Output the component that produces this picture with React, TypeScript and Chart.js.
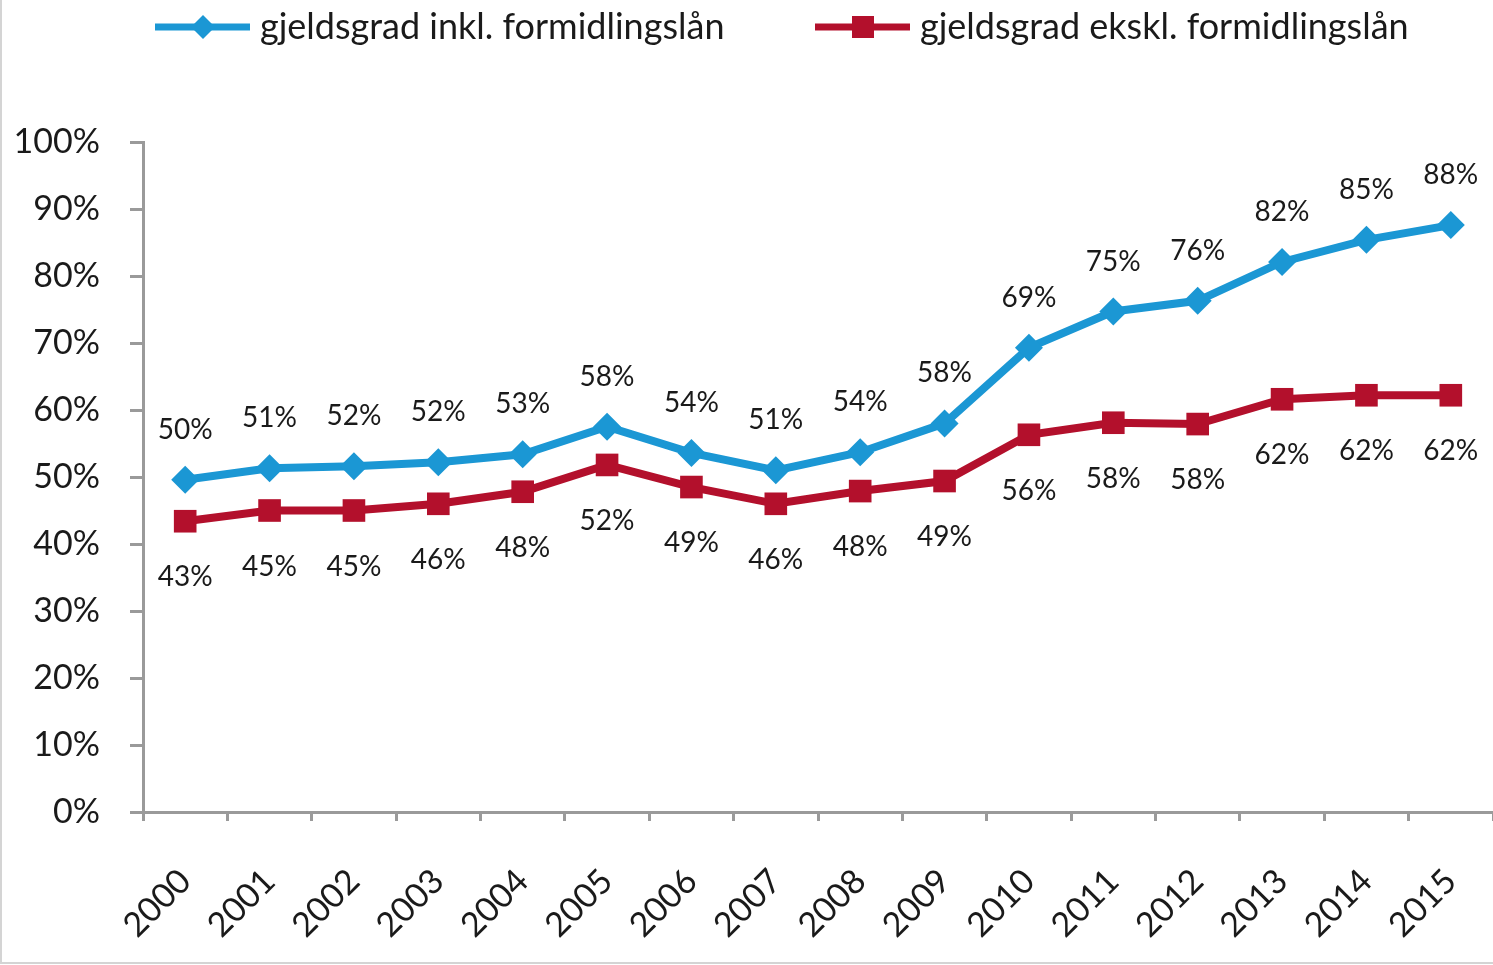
import React, { useEffect, useRef } from "react";
import { Chart, registerables } from "chart.js";

Chart.register(...registerables);

const years = ["2000", "2001", "2002", "2003", "2004", "2005", "2006", "2007", "2008", "2009", "2010", "2011", "2012", "2013", "2014", "2015"];
const inklValues = [49.6, 51.3, 51.6, 52.2, 53.4, 57.5, 53.6, 51.0, 53.7, 58.0, 69.3, 74.7, 76.3, 82.1, 85.4, 87.6];
const eksklValues = [43.4, 45.0, 45.0, 46.0, 47.8, 51.8, 48.5, 46.0, 47.9, 49.4, 56.3, 58.1, 57.9, 61.6, 62.2, 62.2];
const seriesNames = ["gjeldsgrad inkl. formidlingslån", "gjeldsgrad ekskl. formidlingslån"];

const BLUE = "#1b97d4";
const RED = "#b3102c";
const AXIS = "#9a9a9a";
const TEXT = "#1a1a1a";
const FONT = "Lato";

const dataLabelPlugin = {
  id: "dataLabels",
  afterDatasetsDraw(chart: any) {
    const ctx = chart.ctx;
    ctx.save();
    ctx.font = `28px ${FONT}`;
    ctx.fillStyle = TEXT;
    ctx.textAlign = "center";
    ctx.textBaseline = "middle";
    chart.data.datasets.forEach((ds: any, i: number) => {
      const meta = chart.getDatasetMeta(i);
      meta.data.forEach((pt: any, j: number) => {
        const v = ds.data[j] as number;
        const dy = i === 0 ? -50 : 56;
        ctx.fillText(Math.round(v) + "%", pt.x, pt.y + dy);
      });
    });
    ctx.restore();
  },
};

const frameAndLegendPlugin = {
  id: "frameAndLegend",
  beforeDraw(chart: any) {
    const ctx = chart.ctx;
    const w = chart.width;
    const h = chart.height;
    ctx.save();
    ctx.fillStyle = "#ffffff";
    ctx.fillRect(0, 0, w, h);
    ctx.strokeStyle = "#d4d4d4";
    ctx.lineWidth = 2;
    ctx.beginPath();
    ctx.moveTo(1, 0);
    ctx.lineTo(1, h - 2);
    ctx.lineTo(w, h - 2);
    ctx.stroke();
    ctx.restore();
  },
  afterDraw(chart: any) {
    const ctx = chart.ctx;
    ctx.save();
    const y = 27;
    const items = [
      { x: 155, color: BLUE, shape: "diamond", label: seriesNames[0] },
      { x: 815, color: RED, shape: "square", label: seriesNames[1] },
    ];
    items.forEach((it) => {
      ctx.strokeStyle = it.color;
      ctx.lineWidth = 7;
      ctx.beginPath();
      ctx.moveTo(it.x, y);
      ctx.lineTo(it.x + 95, y);
      ctx.stroke();
      ctx.fillStyle = it.color;
      const cx = it.x + 48;
      ctx.beginPath();
      if (it.shape === "diamond") {
        ctx.moveTo(cx, y - 12);
        ctx.lineTo(cx + 12, y);
        ctx.lineTo(cx, y + 12);
        ctx.lineTo(cx - 12, y);
        ctx.closePath();
      } else {
        ctx.rect(cx - 11, y - 11, 22, 22);
      }
      ctx.fill();
      ctx.fillStyle = TEXT;
      ctx.font = `36px ${FONT}`;
      ctx.textAlign = "left";
      ctx.textBaseline = "middle";
      ctx.fillText(it.label, it.x + 105, y);
    });
    ctx.restore();
  },
};

export default function App() {
  const canvasRef = useRef<HTMLCanvasElement | null>(null);

  useEffect(() => {
    if (!canvasRef.current) return;
    const chart = new Chart(canvasRef.current, {
      type: "line",
      data: {
        labels: years,
        datasets: [
          {
            label: seriesNames[0],
            data: inklValues,
            borderColor: BLUE,
            backgroundColor: BLUE,
            borderWidth: 8,
            pointStyle: "rectRot",
            pointRadius: 14,
            pointBorderWidth: 0,
            pointBackgroundColor: BLUE,
            tension: 0,
          },
          {
            label: seriesNames[1],
            data: eksklValues,
            borderColor: RED,
            backgroundColor: RED,
            borderWidth: 8,
            pointStyle: "rect",
            pointRadius: 16,
            pointBorderWidth: 0,
            pointBackgroundColor: RED,
            tension: 0,
          },
        ],
      },
      options: {
        animation: false,
        responsive: false,
        layout: { autoPadding: false, padding: { top: 142, right: 0, left: 0, bottom: 0 } },
        plugins: {
          legend: { display: false },
          tooltip: { enabled: false },
        },
        scales: {
          x: {
            offset: true,
            grid: {
              offset: true,
              drawOnChartArea: false,
              drawTicks: true,
              tickLength: 9,
              color: AXIS,
              lineWidth: 3,
            },
            border: { display: true, color: AXIS, width: 3 },
            ticks: {
              autoSkip: false,
              minRotation: 45,
              maxRotation: 45,
              padding: 40,
              color: TEXT,
              font: { family: FONT, size: 34 },
            },
            afterFit(scale: any) {
              scale.height = 153;
              scale.paddingLeft = 0;
              scale.paddingRight = 0;
            },
          },
          y: {
            min: 0,
            max: 100,
            ticks: {
              stepSize: 10,
              padding: 30,
              color: TEXT,
              font: { family: FONT, size: 34 },
              callback: (v: any) => v + "%",
            },
            grid: {
              drawOnChartArea: false,
              drawTicks: true,
              tickLength: 13,
              color: AXIS,
              lineWidth: 3,
            },
            border: { display: true, color: AXIS, width: 3 },
            afterFit(scale: any) {
              scale.width = 143;
              scale.paddingTop = 0;
              scale.paddingBottom = 0;
            },
          },
        },
      },
      plugins: [dataLabelPlugin, frameAndLegendPlugin],
    });
    return () => chart.destroy();
  }, []);

  return (
    <div style={{ position: "absolute", left: 0, top: 0, width: 1493, height: 965, background: "#fff" }}>
      <canvas ref={canvasRef} width={1493} height={965} style={{ width: 1493, height: 965, display: "block" }} />
    </div>
  );
}
